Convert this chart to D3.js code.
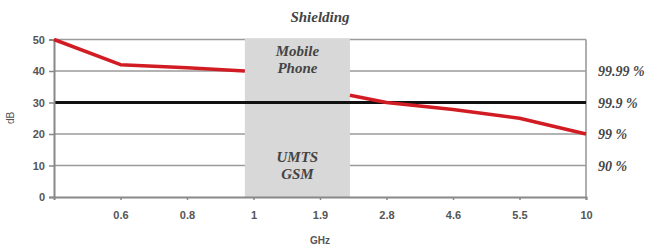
<!DOCTYPE html>
<html>
<head>
<meta charset="utf-8">
<script src="https://cdn.jsdelivr.net/npm/d3@7"></script>
<style>
  body { margin: 0; background: #fff; }
  svg text { fill: #444; }
</style>
</head>
<body>
<div id="grafica"></div>
<script>
// categorias del eje x (la primera posicion no lleva etiqueta)
var xLabels = ['', '0.6', '0.8', '1', '1.9', '2.8', '4.6', '5.5', '10']
var yTicks = [0, 10, 20, 30, 40, 50]
var gridValues = [10, 20, 40, 50]
var refValue = 30
// banda gris de telefonia movil (en posiciones de categoria)
var bandStart = 2.87
var bandEnd = 4.45
// tramos de la curva de atenuacion
var seg1X = [0, 1, 2, 2.87]
var seg1Y = [50, 42, 41, 40]
var seg2X = [4.45, 5, 6, 7, 8]
var seg2Y = [32.3, 30, 27.8, 25, 20]
// etiquetas de la derecha
var pctValues = [40, 30, 20, 10]
var pctLabels = ['99.99 %', '99.9 %', '99 %', '90 %']

var W = 655, H = 249
var margin = { top: 39.5, right: 69, bottom: 52, left: 54 }

var svg = d3.select('#grafica').append('svg')
    .attr('width', W)
    .attr('height', H)

var x = d3.scaleLinear()
    .domain([0, xLabels.length - 1])
    .range([margin.left, W - margin.right])

var y = d3.scaleLinear()
    .domain([0, 50])
    .range([H - margin.bottom, margin.top])

var serif = '"Liberation Serif", "DejaVu Serif", serif'
var sans = '"Liberation Sans", Arial, sans-serif'

// lineas de la grilla
svg.selectAll('line.grid')
    .data(gridValues)
    .enter()
    .append('line')
    .attr('class', 'grid')
    .attr('x1', x(0))
    .attr('x2', x(8))
    .attr('y1', function (d) { return y(d) })
    .attr('y2', function (d) { return y(d) })
    .style('stroke', '#9a9a9a')
    .style('stroke-width', 1.6)

// banda gris
svg.append('rect')
    .attr('x', x(bandStart))
    .attr('y', y(50) - 1)
    .attr('width', x(bandEnd) - x(bandStart))
    .attr('height', y(0) - y(50) + 1)
    .style('fill', '#d8d8d8')

// borde derecho
svg.append('line')
    .attr('x1', x(8)).attr('x2', x(8))
    .attr('y1', y(50)).attr('y2', y(0))
    .style('stroke', '#9a9a9a')
    .style('stroke-width', 1.6)

// linea de referencia negra
svg.append('line')
    .attr('x1', x(0))
    .attr('x2', x(8))
    .attr('y1', y(refValue))
    .attr('y2', y(refValue))
    .style('stroke', '#111')
    .style('stroke-width', 3)

// ejes
var yAxis = svg.append('g')
    .attr('transform', 'translate(' + x(0) + ',0)')
    .call(d3.axisLeft(y).tickValues(yTicks).tickSize(5).tickPadding(4))
var xAxis = svg.append('g')
    .attr('transform', 'translate(0,' + y(0) + ')')
    .call(d3.axisBottom(x).tickValues(d3.range(1, xLabels.length))
        .tickFormat(function (i) { return xLabels[i] })
        .tickSize(3).tickPadding(11))

;[yAxis, xAxis].forEach(function (a) {
    a.select('.domain').style('stroke', '#888').style('stroke-width', 2)
    a.selectAll('.tick line').style('stroke', '#888').style('stroke-width', 1.5)
    a.selectAll('.tick text')
        .style('font-family', sans)
        .style('font-size', '11px')
        .style('font-weight', 'bold')
        .style('fill', '#555')
})

// curva roja
var line = d3.line()
    .x(function (d) { return x(d[0]) })
    .y(function (d) { return y(d[1]) })

;[d3.zip(seg1X, seg1Y), d3.zip(seg2X, seg2Y)].forEach(function (seg) {
    svg.append('path')
        .datum(seg)
        .attr('d', line)
        .style('fill', 'none')
        .style('stroke', '#d21c24')
        .style('stroke-width', 3.5)
        .style('stroke-linejoin', 'round')
})

// textos
function italic(t, px, py, size, anchor) {
    return svg.append('text')
        .attr('x', px)
        .attr('y', py)
        .attr('text-anchor', anchor || 'middle')
        .style('font-family', serif)
        .style('font-style', 'italic')
        .style('font-weight', 'bold')
        .style('font-size', size + 'px')
        .text(t)
}

italic('Shielding', (x(0) + x(8)) / 2, 22, 15)
var bandMid = (x(bandStart) + x(bandEnd)) / 2
italic('Mobile', bandMid, 56, 15)
italic('Phone', bandMid, 73, 15)
italic('UMTS', bandMid, 162, 15)
italic('GSM', bandMid, 179, 15)

svg.selectAll('text.pct')
    .data(pctValues)
    .enter()
    .append('text')
    .attr('class', 'pct')
    .attr('x', x(8) + 12)
    .attr('y', function (d) { return y(d) + 5 })
    .style('font-family', serif)
    .style('font-style', 'italic')
    .style('font-weight', 'bold')
    .style('font-size', '14px')
    .text(function (d, i) { return pctLabels[i] })

svg.append('text')
    .attr('transform', 'translate(14,' + 118 + ') rotate(-90)')
    .attr('text-anchor', 'middle')
    .style('font-family', sans)
    .style('font-size', '10px')
    .style('fill', '#555')
    .text('dB')

svg.append('text')
    .attr('x', 320)
    .attr('y', 244)
    .attr('text-anchor', 'middle')
    .style('font-family', sans)
    .style('font-size', '10px')
    .style('font-weight', 'bold')
    .style('fill', '#555')
    .text('GHz')
</script>
</body>
</html>
